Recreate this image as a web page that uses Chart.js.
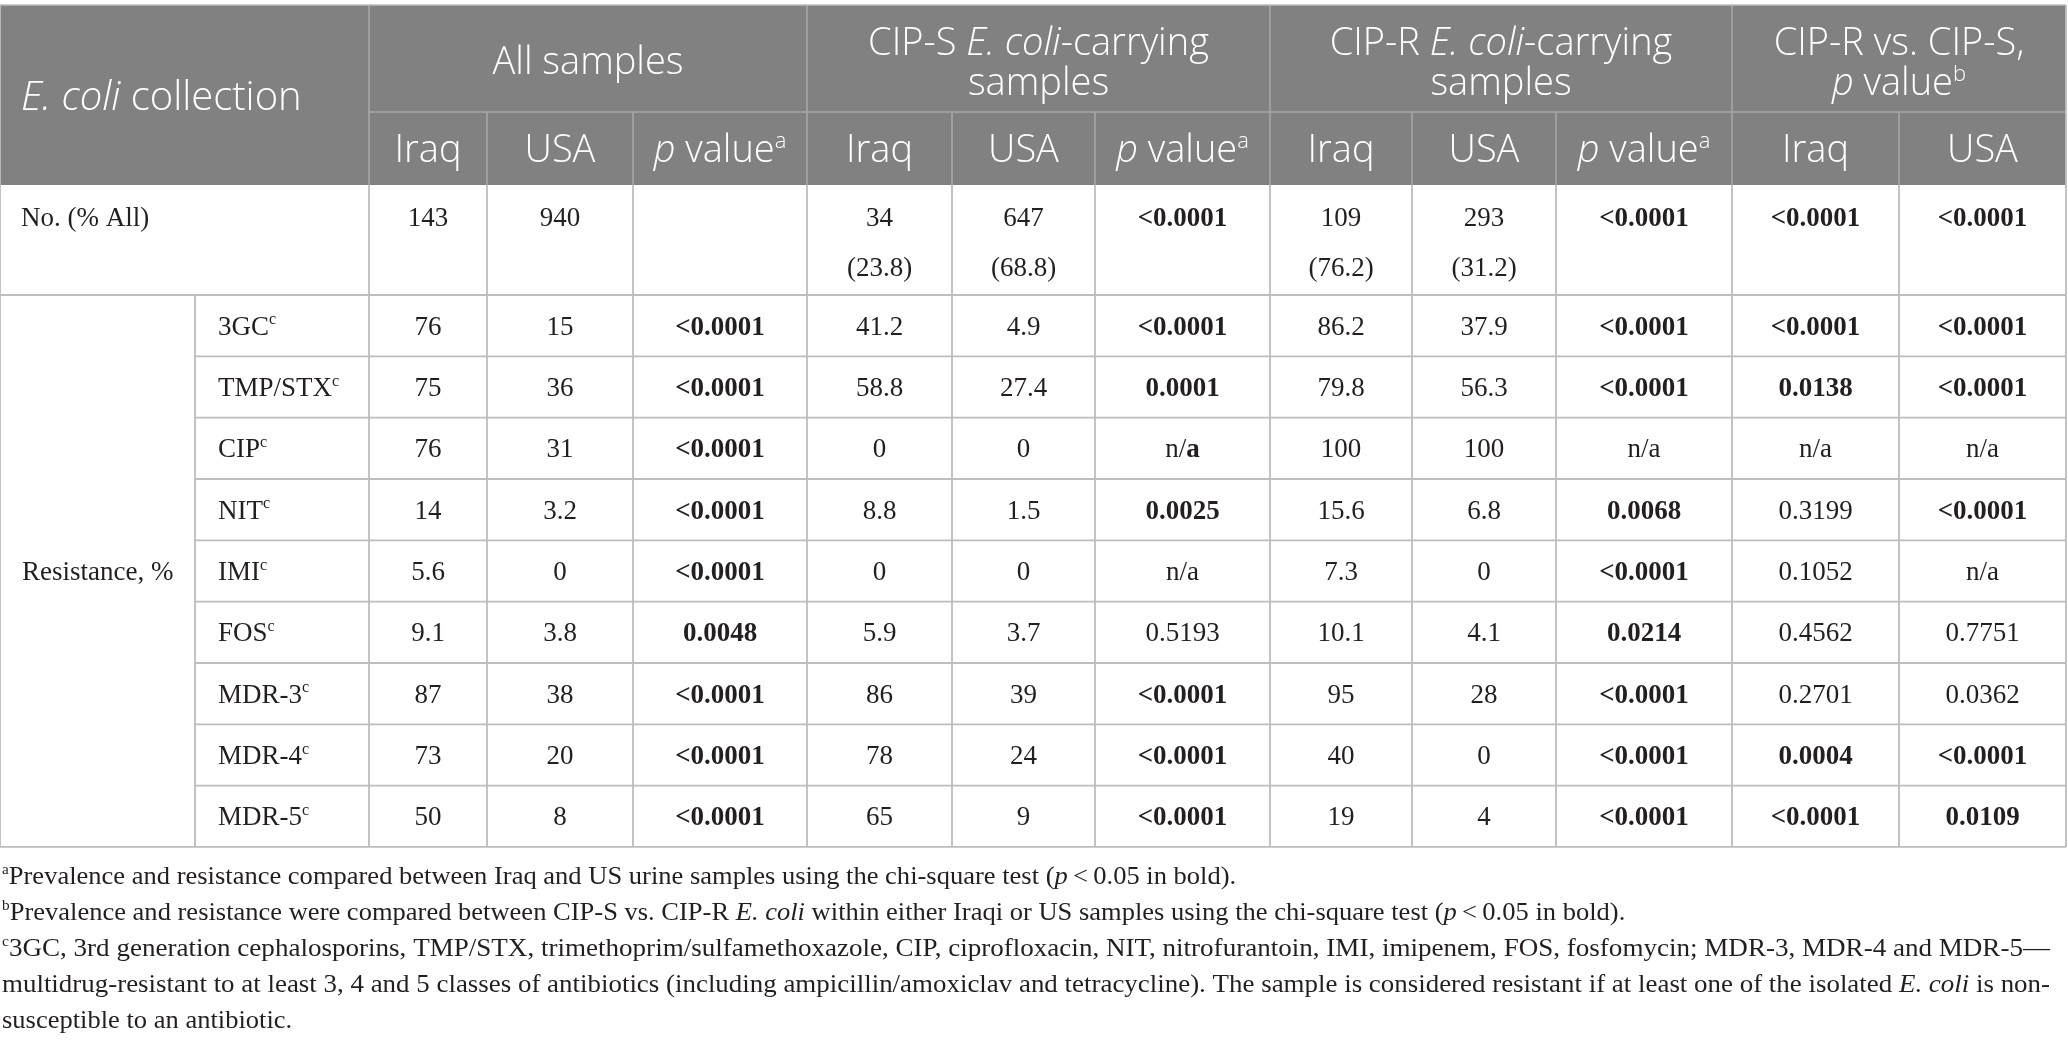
<!DOCTYPE html>
<html>
<head>
<meta charset="utf-8">
<script src="https://cdn.jsdelivr.net/npm/chart.js@4.4.1/dist/chart.umd.min.js"></script>
<style>
  html, body { margin: 0; padding: 0; background: #fff; }
  #wrap { width: 2068px; height: 1049px; position: relative; }
</style>
</head>
<body>
<div id="wrap"><canvas id="tableChart"></canvas></div>
<script>
// DATOS DE LA TABLA
// markup: **bold**, _italic_, ^superscript^
const rowLabels = ['No. (% All)', '3GC^c^', 'TMP/STX^c^', 'CIP^c^', 'NIT^c^', 'IMI^c^', 'FOS^c^', 'MDR-3^c^', 'MDR-4^c^', 'MDR-5^c^'];
const groupLabel = 'Resistance, %';
const cornerLabel = '_E. coli_ collection';

const groupHeaders = [
    ['All samples'],
    ['CIP-S _E. coli_-carrying', 'samples'],
    ['CIP-R _E. coli_-carrying', 'samples'],
    ['CIP-R vs. CIP-S,', '_p_ value^b^']
];
const subHeaders = ['Iraq', 'USA', '_p_ value^a^', 'Iraq', 'USA', '_p_ value^a^', 'Iraq', 'USA', '_p_ value^a^', 'Iraq', 'USA'];

const allIraq = ['143', '76', '75', '76', '14', '5.6', '9.1', '87', '73', '50'];
const allUSA = ['940', '15', '36', '31', '3.2', '0', '3.8', '38', '20', '8'];
const allP = ['', '**<0.0001**', '**<0.0001**', '**<0.0001**', '**<0.0001**', '**<0.0001**', '**0.0048**', '**<0.0001**', '**<0.0001**', '**<0.0001**'];

const susIraq = ['34|(23.8)', '41.2', '58.8', '0', '8.8', '0', '5.9', '86', '78', '65'];
const susUSA = ['647|(68.8)', '4.9', '27.4', '0', '1.5', '0', '3.7', '39', '24', '9'];
const susP = ['**<0.0001**', '**<0.0001**', '**0.0001**', 'n/**a**', '**0.0025**', 'n/a', '0.5193', '**<0.0001**', '**<0.0001**', '**<0.0001**'];

const resIraq = ['109|(76.2)', '86.2', '79.8', '100', '15.6', '7.3', '10.1', '95', '40', '19'];
const resUSA = ['293|(31.2)', '37.9', '56.3', '100', '6.8', '0', '4.1', '28', '0', '4'];
const resP = ['**<0.0001**', '**<0.0001**', '**<0.0001**', 'n/a', '**0.0068**', '**<0.0001**', '**0.0214**', '**<0.0001**', '**<0.0001**', '**<0.0001**'];

const vsIraq = ['**<0.0001**', '**<0.0001**', '**0.0138**', 'n/a', '0.3199', '0.1052', '0.4562', '0.2701', '**0.0004**', '**<0.0001**'];
const vsUSA = ['**<0.0001**', '**<0.0001**', '**<0.0001**', 'n/a', '**<0.0001**', 'n/a', '0.7751', '0.0362', '**<0.0001**', '**0.0109**'];

const footnotes = [
    '^a^Prevalence and resistance compared between Iraq and US urine samples using the chi-square test (_p_\u2009<\u20090.05 in bold).',
    '^b^Prevalence and resistance were compared between CIP-S vs. CIP-R _E. coli_ within either Iraqi or US samples using the chi-square test (_p_\u2009<\u20090.05 in bold).',
    '^c^3GC, 3rd generation cephalosporins, TMP/STX, trimethoprim/sulfamethoxazole, CIP, ciprofloxacin, NIT, nitrofurantoin, IMI, imipenem, FOS, fosfomycin; MDR-3, MDR-4 and MDR-5\u2014',
    'multidrug-resistant to at least 3, 4 and 5 classes of antibiotics (including ampicillin/amoxiclav and tetracycline). The sample is considered resistant if at least one of the isolated _E. coli_ is non-',
    'susceptible to an antibiotic.'
];
const justifiedNotes = [false, false, true, true, false];

const valueColumns = [allIraq, allUSA, allP, susIraq, susUSA, susP, resIraq, resUSA, resP, vsIraq, vsUSA];

// Geometria (unidades de la escala)
const colEdges = [0, 195, 369, 487, 633, 807, 952, 1095, 1270, 1412, 1556, 1732, 1899, 2066];
const groupSpans = [[2, 5], [5, 8], [8, 11], [11, 13]];
const headTop = 5, headMid = 112, headBottom = 185, firstRowBottom = 295, rowH = 61.33;

const SANS = '"Open Sans", "Noto Sans", sans-serif';
const SERIF = '"Liberation Serif", "DejaVu Serif", serif';

// Convierte el texto con marcas a segmentos
function parseRich(str) {
    const segs = [];
    let bold = false, italic = false, sup = false, buf = '';
    const push = () => { if (buf) segs.push({ text: buf, bold, italic, sup }); buf = ''; };
    for (let i = 0; i < str.length; i++) {
        if (str.startsWith('**', i)) { push(); bold = !bold; i++; }
        else if (str[i] === '_') { push(); italic = !italic; }
        else if (str[i] === '^') { push(); sup = !sup; }
        else buf += str[i];
    }
    push();
    return segs;
}

function segFont(seg, size, family, weight) {
    const s = seg.sup ? Math.round(size * 0.58) : size;
    return `${seg.italic ? 'italic ' : ''}${seg.bold ? 'bold' : weight} ${s}px ${family}`;
}

function measureRich(ctx, str, size, family, weight) {
    const segs = parseRich(str);
    let total = 0;
    segs.forEach(seg => { ctx.font = segFont(seg, size, family, weight); seg.w = ctx.measureText(seg.text).width; total += seg.w; });
    return { segs, total };
}

function drawRich(ctx, str, x, y, align, size, family, weight, color) {
    const { segs, total } = measureRich(ctx, str, size, family, weight);
    let cx = align === 'center' ? x - total / 2 : x;
    ctx.fillStyle = color;
    ctx.textBaseline = 'alphabetic';
    ctx.textAlign = 'left';
    segs.forEach(seg => {
        ctx.font = segFont(seg, size, family, weight);
        ctx.fillText(seg.text, cx, seg.sup ? y - size * 0.38 : y);
        cx += seg.w;
    });
}

const tablePlugin = {
    id: 'tablePlugin',
    afterDraw(chart) {
        const ctx = chart.ctx;
        const xs = chart.scales.x, ys = chart.scales.y;
        const X = v => xs.getPixelForValue(v);
        const Y = v => ys.getPixelForValue(v);
        const rowTop = i => i === 0 ? headBottom : firstRowBottom + (i - 1) * rowH;
        const rowBot = i => i === 0 ? firstRowBottom : firstRowBottom + i * rowH;
        const right = colEdges[colEdges.length - 1];
        const nRows = rowLabels.length;

        ctx.save();
        // Cabecera
        ctx.fillStyle = '#808180';
        ctx.fillRect(X(0), Y(headTop), X(right) - X(0), Y(headBottom) - Y(headTop));

        ctx.lineWidth = 1.6;
        ctx.strokeStyle = '#a6a7a6';
        const line = (x1, y1, x2, y2) => { ctx.beginPath(); ctx.moveTo(X(x1), Y(y1)); ctx.lineTo(X(x2), Y(y2)); ctx.stroke(); };
        line(colEdges[2], headMid, right, headMid);
        groupSpans.forEach(sp => line(colEdges[sp[0]], headTop, colEdges[sp[0]], headBottom));
        for (let c = 3; c < colEdges.length - 1; c++) {
            if (!groupSpans.some(sp => sp[0] === c)) line(colEdges[c], headMid, colEdges[c], headBottom);
        }
        ctx.strokeStyle = '#bdbdbd';
        line(0, headTop, right, headTop);

        // Cuerpo
        ctx.strokeStyle = '#bdbdbd';
        ctx.lineWidth = 1.8;
        line(0, headTop, 0, rowBot(nRows - 1));
        line(right, headTop, right, rowBot(nRows - 1));
        line(0, rowBot(0), right, rowBot(0));
        line(0, rowBot(nRows - 1), right, rowBot(nRows - 1));
        for (let r = 1; r < nRows - 1; r++) line(colEdges[1], rowBot(r), right, rowBot(r));
        line(colEdges[1], rowTop(1), colEdges[1], rowBot(nRows - 1));
        for (let c = 2; c < colEdges.length - 1; c++) line(colEdges[c], headBottom, colEdges[c], rowBot(nRows - 1));

        // Textos de cabecera
        const white = '#ffffff';
        const headSize = 38;
        drawRich(ctx, cornerLabel, X(21), Y(110), 'left', 40, SANS, 300, white);
        groupHeaders.forEach((lines, g) => {
            const cx = (X(colEdges[groupSpans[g][0]]) + X(colEdges[groupSpans[g][1]])) / 2;
            if (lines.length === 1) {
                drawRich(ctx, lines[0], cx, Y(74), 'center', headSize, SANS, 300, white);
            } else {
                drawRich(ctx, lines[0], cx, Y(55), 'center', headSize, SANS, 300, white);
                drawRich(ctx, lines[1], cx, Y(95), 'center', headSize, SANS, 300, white);
            }
        });
        subHeaders.forEach((t, c) => {
            const cx = (X(colEdges[c + 2]) + X(colEdges[c + 3])) / 2;
            drawRich(ctx, t, cx, Y(162), 'center', headSize, SANS, 300, white);
        });

        // Textos del cuerpo
        const ink = '#231f20';
        const bodySize = 27;
        drawRich(ctx, rowLabels[0], X(21), Y(226), 'left', bodySize, SERIF, 'normal', ink);
        for (let r = 1; r < nRows; r++) {
            const cy = (rowTop(r) + rowBot(r)) / 2;
            drawRich(ctx, rowLabels[r], X(218), Y(cy + 9), 'left', bodySize, SERIF, 'normal', ink);
        }
        const midGroup = (rowTop(1) + rowBot(nRows - 1)) / 2;
        drawRich(ctx, groupLabel, X(22), Y(midGroup + 9), 'left', bodySize, SERIF, 'normal', ink);

        valueColumns.forEach((col, c) => {
            const cx = (X(colEdges[c + 2]) + X(colEdges[c + 3])) / 2;
            col.forEach((v, r) => {
                if (!v) return;
                if (r === 0) {
                    v.split('|').forEach((part, k) => drawRich(ctx, part, cx, Y(226 + k * 50), 'center', bodySize, SERIF, 'normal', ink));
                } else {
                    const cy = (rowTop(r) + rowBot(r)) / 2;
                    drawRich(ctx, v, cx, Y(cy + 9), 'center', bodySize, SERIF, 'normal', ink);
                }
            });
        });

        // Notas al pie
        const noteSize = 26;
        footnotes.forEach((t, i) => {
            const w = measureRich(ctx, t, noteSize, SERIF, 'normal').total;
            const sx = justifiedNotes[i] ? (X(2050) - X(2)) / w : 1.02;
            ctx.save();
            ctx.translate(X(2), Y(884 + i * 36));
            ctx.scale(sx, 1);
            drawRich(ctx, t, 0, 0, 'left', noteSize, SERIF, 'normal', ink);
            ctx.restore();
        });
        ctx.restore();
    }
};

const ctxTable = document.getElementById('tableChart').getContext('2d');
const tableChart = new Chart(ctxTable, {
    type: 'scatter',
    data: { datasets: [] },
    options: {
        responsive: true,
        maintainAspectRatio: false,
        animation: false,
        events: [],
        layout: { padding: 0 },
        plugins: { legend: { display: false }, tooltip: { enabled: false } },
        scales: {
            x: { type: 'linear', min: 0, max: 2068, display: false },
            y: { type: 'linear', min: 0, max: 1049, reverse: true, display: false }
        }
    },
    plugins: [tablePlugin]
});
</script>
</body>
</html>
